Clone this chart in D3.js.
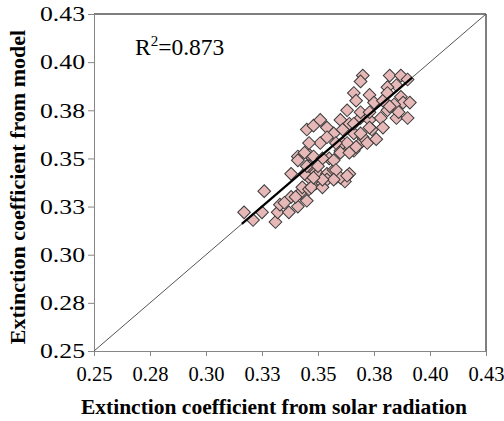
<!DOCTYPE html>
<html><head><meta charset="utf-8">
<script src="https://cdn.jsdelivr.net/npm/d3@7"></script>
<style>body{margin:0;background:#fff}svg{display:block}</style>
</head><body>
<svg id="c" width="504" height="421"></svg>
<script>
const xTicks = [0.25, 0.275, 0.30, 0.325, 0.35, 0.375, 0.40, 0.425];
const yTicks = [0.25, 0.275, 0.30, 0.325, 0.35, 0.375, 0.40, 0.425];
const tickLabels = ["0.25", "0.28", "0.30", "0.33", "0.35", "0.38", "0.40", "0.43"];
const solar = [0.317,0.321,0.325,0.326,0.331,0.332,0.333,0.337,0.338,0.338,0.341,0.342,0.343,0.345,0.346,0.346,0.341,0.346,0.348,0.349,0.335,0.340,0.347,0.352,0.344,0.350,0.354,0.358,0.346,0.341,0.344,0.351,0.355,0.360,0.361,0.364,0.362,0.360,0.357,0.354,0.352,0.369,0.366,0.345,0.348,0.351,0.354,0.357,0.360,0.364,0.369,0.373,0.378,0.379,0.374,0.370,0.366,0.363,0.358,0.354,0.346,0.348,0.352,0.357,0.360,0.364,0.367,0.372,0.376,0.345,0.350,0.358,0.363,0.357,0.352,0.348,0.370,0.369,0.366,0.382,0.387,0.390,0.385,0.381,0.373,0.367,0.375,0.379,0.381,0.387,0.388,0.384,0.363,0.369,0.373,0.381,0.385,0.373,0.366,0.361,0.391,0.386,0.390,0.382,0.369];
const model = [0.322,0.318,0.322,0.333,0.317,0.322,0.326,0.322,0.330,0.342,0.325,0.332,0.335,0.328,0.334,0.340,0.351,0.352,0.344,0.337,0.327,0.330,0.335,0.337,0.342,0.342,0.342,0.340,0.346,0.349,0.353,0.358,0.350,0.354,0.358,0.342,0.338,0.340,0.344,0.339,0.335,0.358,0.354,0.365,0.367,0.370,0.366,0.363,0.370,0.368,0.371,0.370,0.371,0.366,0.365,0.361,0.363,0.358,0.358,0.361,0.358,0.351,0.350,0.349,0.353,0.353,0.356,0.358,0.360,0.346,0.346,0.344,0.341,0.339,0.339,0.340,0.393,0.390,0.384,0.393,0.393,0.391,0.388,0.387,0.383,0.380,0.379,0.380,0.384,0.382,0.379,0.378,0.375,0.374,0.374,0.375,0.371,0.366,0.368,0.365,0.379,0.374,0.371,0.377,0.363];
const trendX = [0.316, 0.392];
const trendY = [0.316, 0.392];
const xTitle = "Extinction coefficient from solar radiation";
const yTitle = "Extinction coefficient from model";

const svg = d3.select("#c");
const L = 94, R = 486, T = 14, B = 351;
const x = d3.scaleLinear().domain([0.25, 0.425]).range([L, R]);
const y = d3.scaleLinear().domain([0.25, 0.425]).range([B, T]);
const serif = "'Liberation Serif','Times New Roman',serif";
const fmt = d => tickLabels[xTicks.indexOf(d)];

svg.append("path").attr("d", `M${L},${T}H${R}V${B}`).attr("fill","none").attr("stroke","#000").attr("stroke-width",1);

const xa = svg.append("g").attr("transform", `translate(0,${B})`)
  .call(d3.axisBottom(x).tickValues(xTicks).tickSize(5).tickSizeOuter(0).tickFormat(fmt));
const ya = svg.append("g").attr("transform", `translate(${L},0)`)
  .call(d3.axisLeft(y).tickValues(yTicks).tickSize(6).tickSizeOuter(0).tickFormat(fmt));
[xa, ya].forEach(a => {
  a.select(".domain").attr("stroke", "#868686");
  a.selectAll(".tick line").attr("stroke", "#868686");
  a.selectAll("text").attr("font-family", serif).attr("font-size", 20.5).attr("fill", "#000");
});
xa.selectAll("text").attr("dy", null).attr("y", 30);
ya.selectAll("text").attr("x", -9).attr("dy", "0.33em")
  .attr("textLength", 45).attr("lengthAdjust", "spacingAndGlyphs");

svg.append("line").attr("x1", x(0.25)).attr("y1", y(0.25)).attr("x2", x(0.425)).attr("y2", y(0.425))
  .attr("stroke", "#555").attr("stroke-width", 1);

const sym = d3.symbol().type(d3.symbolSquare).size(81);
svg.append("g").selectAll("path").data(solar.map((s, i) => [s, model[i]])).join("path")
  .attr("d", sym)
  .attr("transform", d => `translate(${x(d[0])},${y(d[1])}) rotate(45)`)
  .attr("fill", "#e6b9b8").attr("stroke", "#3a3a3a").attr("stroke-width", 1);

svg.append("line").attr("x1", x(trendX[0])).attr("y1", y(trendY[0])).attr("x2", x(trendX[1])).attr("y2", y(trendY[1]))
  .attr("stroke", "#000").attr("stroke-width", 2.2);

const rt = svg.append("text").attr("x", 135).attr("y", 55).attr("font-family", serif).attr("font-size", 23.5);
rt.append("tspan").text("R");
rt.append("tspan").attr("dy", -9).attr("font-size", 15).text("2");
rt.append("tspan").attr("dy", 9).text("=0.873");

svg.append("text").attr("x", 274).attr("y", 414).attr("text-anchor", "middle")
  .attr("font-family", serif).attr("font-weight", "bold").attr("font-size", 21.5).text(xTitle);
svg.append("text").attr("transform", "translate(25,187) rotate(-90)").attr("text-anchor", "middle")
  .attr("font-family", serif).attr("font-weight", "bold").attr("font-size", 22).text(yTitle);
</script>
</body></html>
